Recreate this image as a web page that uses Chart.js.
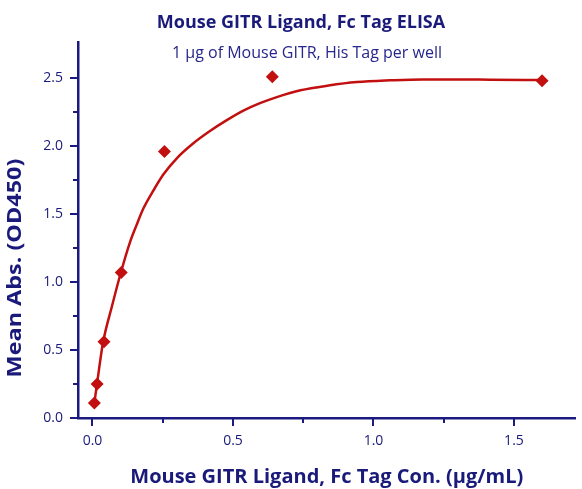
<!DOCTYPE html>
<html><head><meta charset="utf-8">
<script src="https://cdn.jsdelivr.net/npm/chart.js@4.4.0/dist/chart.umd.min.js"></script>
<style>html,body{margin:0;padding:0;background:#fff}#wrap{width:582px;height:489px;position:relative}</style>
</head><body><div id="wrap"><canvas id="c" width="582" height="489"></canvas></div>
<script>
const concentrations = [0.0066, 0.0164, 0.041, 0.1024, 0.256, 0.64, 1.6];
const meanAbs = [0.11, 0.25, 0.56, 1.07, 1.96, 2.51, 2.48];
const fitX = [0.0066, 0.016, 0.037, 0.069, 0.101, 0.133, 0.157, 0.181, 0.216, 0.252, 0.300, 0.359, 0.418, 0.478, 0.537, 0.596, 0.656, 0.740, 0.840, 0.941, 1.060, 1.176, 1.300, 1.415, 1.603];
const fitY = [0.11, 0.25, 0.55, 0.82, 1.07, 1.29, 1.42, 1.54, 1.67, 1.79, 1.91, 2.02, 2.11, 2.19, 2.26, 2.315, 2.36, 2.41, 2.445, 2.47, 2.483, 2.49, 2.49, 2.488, 2.485];
const xMajorTicks = [0, 0.5, 1.0, 1.5];
const xMinorTicks = [0.25, 0.75, 1.25];
const yMajorTicks = [0, 0.5, 1.0, 1.5, 2.0, 2.5];
const yMinorTicks = [0.25, 0.75, 1.25, 1.75, 2.25];

const NAVY = '#1a1a80';
const TEXT = '#1a1a7a';
const RED = '#c21010';
const FONT = "'Open Sans'";

const titlePlugin = {
  id: 'titles',
  afterDraw(chart) {
    const ctx = chart.ctx;
    ctx.save();
    ctx.textAlign = 'center';
    ctx.textBaseline = 'middle';
    ctx.fillStyle = TEXT;
    ctx.font = "bold 18px " + FONT;
    ctx.fillText('Mouse GITR Ligand, Fc Tag ELISA', 301, 23);
    ctx.fillStyle = '#26268c';
    ctx.font = "16px " + FONT;
    ctx.fillText('1 µg of Mouse GITR, His Tag per well', 307, 53);
    // y-axis title
    ctx.fillStyle = TEXT;
    ctx.translate(15, 268);
    ctx.rotate(-Math.PI / 2);
    ctx.scale(1.2, 1);
    ctx.font = "bold 19.5px " + FONT;
    ctx.fillText('Mean Abs. (OD450)', 0, 0);
    ctx.restore();
  }
};

const tickPlugin = {
  id: 'ticksDraw',
  afterDraw(chart) {
    const ctx = chart.ctx;
    const xs = chart.scales.x, ys = chart.scales.y;
    ctx.save();
    ctx.strokeStyle = NAVY;
    ctx.lineWidth = 2;
    const yb = ys.bottom, xl = xs.left;
    xMajorTicks.forEach(v => { const p = Math.round(xs.getPixelForValue(v)); ctx.beginPath(); ctx.moveTo(p, yb); ctx.lineTo(p, yb + 8); ctx.stroke(); });
    xMinorTicks.forEach(v => { const p = Math.round(xs.getPixelForValue(v)); ctx.beginPath(); ctx.moveTo(p, yb); ctx.lineTo(p, yb + 5); ctx.stroke(); });
    yMajorTicks.forEach(v => { const p = Math.round(ys.getPixelForValue(v)); ctx.beginPath(); ctx.moveTo(xl, p); ctx.lineTo(xl - 8, p); ctx.stroke(); });
    yMinorTicks.forEach(v => { const p = Math.round(ys.getPixelForValue(v)); ctx.beginPath(); ctx.moveTo(xl, p); ctx.lineTo(xl - 5, p); ctx.stroke(); });
    ctx.restore();
  }
};

new Chart(document.getElementById('c'), {
  type: 'scatter',
  data: {
    datasets: [
      {
        label: 'fit',
        data: fitX.map((x, i) => ({x, y: fitY[i]})),
        showLine: true,
        borderColor: RED,
        borderWidth: 2.5,
        pointRadius: 0,
        cubicInterpolationMode: 'monotone',
        order: 2
      },
      {
        label: 'data',
        data: concentrations.map((x, i) => ({x, y: meanAbs[i]})),
        showLine: false,
        pointStyle: 'rectRot',
        pointRadius: 6.5,
        backgroundColor: RED,
        borderColor: RED,
        borderWidth: 0,
        order: 1
      }
    ]
  },
  options: {
    responsive: false,
    animation: false,
    layout: { padding: { top: 42, right: 0, left: 0, bottom: 0 } },
    plugins: { legend: { display: false }, tooltip: { enabled: false } },
    scales: {
      x: {
        type: 'linear', min: -0.0516, max: 1.719,
        afterBuildTicks(s) { s.ticks = xMajorTicks.map(v => ({value: v})); },
        afterFit(s) { s.height = 71; },
        grid: { display: false, drawTicks: false },
        border: { display: true, color: NAVY, width: 2.5 },
        ticks: { color: TEXT, font: { family: FONT, size: 14 }, padding: 15, callback: v => v.toFixed(1) },
        title: { display: true, text: 'Mouse GITR Ligand, Fc Tag Con. (µg/mL)', color: TEXT, font: { family: FONT, size: 20, weight: 'bold' }, padding: { top: 12, bottom: 0 } }
      },
      y: {
        type: 'linear', min: 0, max: 2.765,
        afterBuildTicks(s) { s.ticks = yMajorTicks.map(v => ({value: v})); },
        afterFit(s) { s.width = 78; },
        grid: { display: false, drawTicks: false },
        border: { display: true, color: NAVY, width: 2.5 },
        ticks: { color: TEXT, font: { family: FONT, size: 14 }, padding: 15, callback: v => v.toFixed(1) },
        title: { display: false }
      }
    }
  },
  plugins: [titlePlugin, tickPlugin]
});
</script></body></html>
